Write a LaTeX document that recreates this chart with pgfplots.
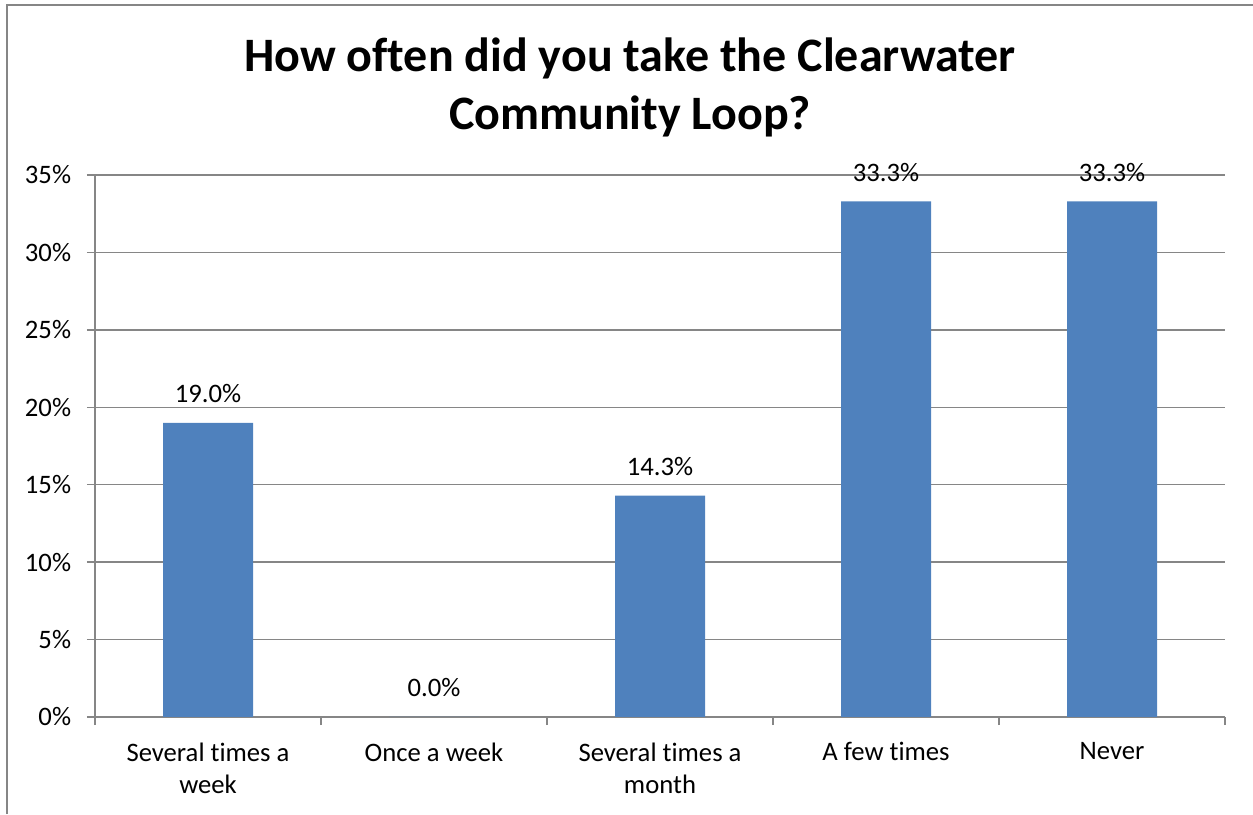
\documentclass[border=0pt]{standalone}
\usepackage{pgfplots}
\pgfplotsset{compat=1.18}
\usepackage{fontspec}
\setmainfont{Carlito}[Ligatures=NoCommon]
\definecolor{barblue}{RGB}{79,129,189}
\definecolor{linegray}{RGB}{134,134,134}
\newcommand{\labelfont}{\fontsize{20}{24}\selectfont}
\begin{document}
\begin{tikzpicture}
\useasboundingbox (0,0) rectangle (939.75pt,610.5pt);
% chart frame
\draw[linegray, line width=1.5pt] (5.25pt,0) -- (5.25pt,606.75pt) -- (940pt,606.75pt);
% title
\node[font=\fontsize{36}{43}\selectfont\bfseries, anchor=base] at (472.5pt,556.5pt) {How often did you take the Clearwater};
\node[font=\fontsize{36}{43}\selectfont\bfseries, anchor=base] at (472.5pt,513pt) {Community Loop?};
\begin{axis}[
  at={(71.25pt,72.75pt)}, anchor=south west, scale only axis,
  width=847.5pt, height=406.5pt,
  ymin=0, ymax=35, xmin=-0.5, xmax=4.5,
  axis x line*=bottom, axis y line*=left,
  axis line style={linegray, line width=1pt, -},
  ybar, bar width=67.5pt,
  ytick={0,5,...,35},
  yticklabel={\pgfmathprintnumber{\tick}\%},
  /pgf/number format/assume math mode=true,
  ymajorgrids, grid style={linegray, line width=1pt},
  xtick={0,...,4},
  xticklabels={{Several times a\\week},{Once a week},{Several times a\\month},{A few times},{Never}},
  major x tick style={draw=none},
  minor xtick={-0.5,0.5,...,4.5},
  tick align=outside, major tick length=6pt, minor tick length=6pt,
  tick style={linegray, line width=1pt},
  ticklabel style={font=\labelfont},
  yticklabel style={anchor=east, inner sep=0pt, xshift=-11.75pt},
  xticklabel style={anchor=north, align=center, inner sep=0pt, yshift=-13pt},
  nodes near coords={\pgfmathprintnumber[fixed,fixed zerofill,precision=1]{\pgfplotspointmeta}\%},
  every node near coord/.append style={font=\labelfont, anchor=base, yshift=15pt, /pgf/number format/assume math mode=true},
]
\addplot[fill=barblue, draw=none] coordinates {(0,19.0) (1,0.0) (2,14.3) (3,33.3) (4,33.3)};
\end{axis}
\end{tikzpicture}
\end{document}
